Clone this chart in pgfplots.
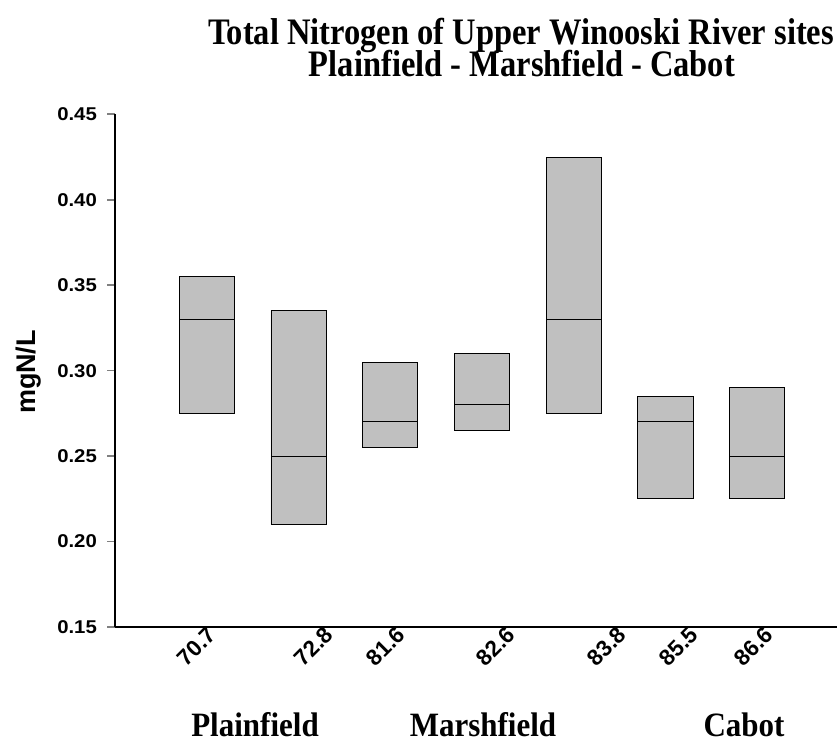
\documentclass[border=0pt]{standalone}
\usepackage{pgfplots}
\usepackage{pgfplotstable}
\pgfplotsset{compat=1.18}
\usepackage{fontspec}
\setmainfont{Liberation Serif}
\newfontfamily\arialfont{Liberation Sans}
\definecolor{boxgray}{HTML}{C0C0C0}
\pgfplotstableread{
x low med high
1 0.275 0.330 0.355
2 0.210 0.250 0.335
3 0.255 0.270 0.305
4 0.265 0.280 0.310
5 0.275 0.330 0.425
6 0.225 0.270 0.285
7 0.225 0.250 0.290
}\sitedata
\begin{document}
\begin{tikzpicture}
\useasboundingbox (0pt,0pt) rectangle (837pt,742pt);
\begin{axis}[
  at={(115pt,115pt)}, anchor=south west,
  scale only axis, width=722pt, height=512.7pt,
  xmin=0, xmax=7.87, ymin=0.15, ymax=0.45,
  axis x line=bottom, axis y line=left,
  axis line style={-, line width=1.6pt},
  ybar stacked, bar width=0.6,
  tick align=outside,
  major tick length=8pt,
  ytick={0.15,0.20,0.25,0.30,0.35,0.40,0.45},
  yticklabels={0.15,0.20,0.25,0.30,0.35,0.40,0.45},
  ytick style={line width=1.6pt},
  yticklabel style={font=\arialfont\bfseries\fontsize{18.5}{18.5}\selectfont, xscale=1.1, inner sep=0pt, xshift=-9pt},
  xtick={1.06,2.335,3.12,4.32,5.53,6.313,7.13},
  xticklabels={70.7,72.8,81.6,82.6,83.8,85.5,86.6},
  xtick style={draw=none},
  xticklabel style={font=\arialfont\bfseries\fontsize{22.5}{22.5}\selectfont, rotate=45, anchor=east, inner sep=0pt},
  xticklabel shift={-4pt},
]
\addplot[draw=none, fill=none] table[x=x, y=low] {\sitedata};
\addplot[fill=boxgray, draw=black, line width=0.9pt] table[x=x, y expr=\thisrow{med}-\thisrow{low}] {\sitedata};
\addplot[fill=boxgray, draw=black, line width=0.9pt] table[x=x, y expr=\thisrow{high}-\thisrow{med}] {\sitedata};
\end{axis}
\node[rotate=90, font=\arialfont\bfseries\fontsize{27}{27}\selectfont, inner sep=0pt] at (29pt,370pt) {mgN/L};
\node[anchor=base, font=\bfseries\fontsize{32.5}{32.5}\selectfont, inner sep=0pt, yscale=1.15] at (521pt,697pt) {Total Nitrogen of Upper Winooski River sites};
\node[anchor=base, font=\bfseries\fontsize{32.5}{32.5}\selectfont, inner sep=0pt, yscale=1.15] at (522pt,665pt) {Plainfield - Marshfield - Cabot};
\node[anchor=base, font=\bfseries\fontsize{31}{31}\selectfont, inner sep=0pt, yscale=1.1] at (255pt,6pt) {Plainfield};
\node[anchor=base, font=\bfseries\fontsize{31}{31}\selectfont, inner sep=0pt, yscale=1.1] at (483pt,6pt) {Marshfield};
\node[anchor=base, font=\bfseries\fontsize{31}{31}\selectfont, inner sep=0pt, yscale=1.1] at (744pt,6pt) {Cabot};
\end{tikzpicture}
\end{document}
